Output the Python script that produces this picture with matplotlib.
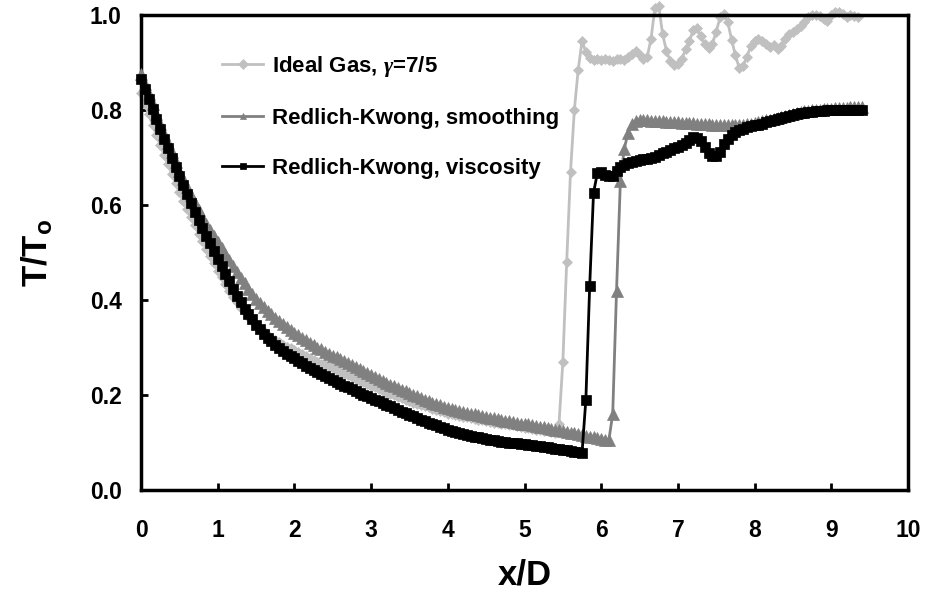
import numpy as np
import matplotlib
matplotlib.use('Agg')
import matplotlib.pyplot as plt

plt.rcParams['font.family'] = ['Liberation Sans', 'DejaVu Sans']
plt.rcParams['font.weight'] = 'bold'
plt.rcParams['mathtext.fontset'] = 'custom'
plt.rcParams['mathtext.rm'] = 'Liberation Sans:bold'
plt.rcParams['mathtext.bf'] = 'Liberation Sans:bold'
plt.rcParams['mathtext.it'] = 'Liberation Serif:italic'

# grid spacing of the solution along the axis (x/D)
DX = 0.05

# T/To along the axis, one value per grid point starting at x/D = 0
ideal_gas = [
    0.835, 0.813, 0.791, 0.769, 0.747, 0.726, 0.706, 0.686, 0.666, 0.646,
    0.627, 0.609, 0.591, 0.574, 0.557, 0.540, 0.524, 0.508, 0.492, 0.477,
    0.462, 0.448, 0.434, 0.420, 0.407, 0.395, 0.384, 0.374, 0.364, 0.356,
    0.348, 0.341, 0.334, 0.327, 0.321, 0.316, 0.311, 0.306, 0.302, 0.298,
    0.294, 0.290, 0.286, 0.282, 0.278, 0.274, 0.270, 0.266, 0.263, 0.259,
    0.256, 0.252, 0.249, 0.245, 0.242, 0.238, 0.234, 0.230, 0.227, 0.223,
    0.219, 0.216, 0.212, 0.209, 0.205, 0.202, 0.199, 0.196, 0.193, 0.190,
    0.187, 0.184, 0.182, 0.179, 0.176, 0.174, 0.171, 0.169, 0.166, 0.164,
    0.161, 0.159, 0.158, 0.156, 0.154, 0.153, 0.151, 0.150, 0.148, 0.147,
    0.145, 0.144, 0.142, 0.141, 0.140, 0.138, 0.137, 0.136, 0.134, 0.133,
    0.131, 0.130, 0.129, 0.127, 0.126, 0.125, 0.124, 0.123, 0.121, 0.140,
    0.270, 0.480, 0.670, 0.800, 0.885, 0.945, 0.922, 0.910, 0.905, 0.907,
    0.905, 0.908, 0.906, 0.904, 0.907, 0.908, 0.906, 0.912, 0.918, 0.925,
    0.915, 0.908, 0.912, 0.950, 1.015, 1.020, 0.960, 0.925, 0.903, 0.895,
    0.897, 0.907, 0.928, 0.945, 0.968, 0.972, 0.955, 0.940, 0.930, 0.940,
    0.965, 0.995, 1.002, 0.985, 0.948, 0.915, 0.888, 0.893, 0.912, 0.935,
    0.945, 0.950, 0.945, 0.938, 0.933, 0.937, 0.928, 0.935, 0.950, 0.960,
    0.965, 0.970, 0.977, 0.985, 0.995, 1.000, 1.000, 0.997, 0.992, 0.987,
    1.000, 1.006, 1.006, 1.003, 0.996, 1.000, 0.997, 0.996,
]

rk_smoothing = [
    0.876, 0.855, 0.834, 0.812, 0.791, 0.770, 0.750, 0.730, 0.711, 0.691,
    0.672, 0.655, 0.638, 0.621, 0.605, 0.589, 0.575, 0.561, 0.548, 0.535,
    0.522, 0.509, 0.497, 0.484, 0.471, 0.459, 0.447, 0.436, 0.424, 0.413,
    0.402, 0.393, 0.385, 0.377, 0.370, 0.363, 0.356, 0.350, 0.343, 0.337,
    0.331, 0.326, 0.320, 0.315, 0.310, 0.305, 0.300, 0.296, 0.291, 0.287,
    0.283, 0.279, 0.275, 0.271, 0.267, 0.263, 0.259, 0.255, 0.250, 0.246,
    0.242, 0.238, 0.234, 0.230, 0.226, 0.222, 0.218, 0.215, 0.211, 0.208,
    0.204, 0.201, 0.197, 0.194, 0.190, 0.187, 0.184, 0.181, 0.178, 0.175,
    0.172, 0.170, 0.168, 0.166, 0.164, 0.162, 0.160, 0.159, 0.157, 0.156,
    0.154, 0.152, 0.151, 0.149, 0.148, 0.146, 0.145, 0.143, 0.142, 0.140,
    0.139, 0.138, 0.136, 0.135, 0.133, 0.132, 0.130, 0.129, 0.127, 0.126,
    0.124, 0.122, 0.120, 0.119, 0.117, 0.115, 0.114, 0.112, 0.111, 0.109,
    0.108, 0.106, 0.105, 0.160, 0.420, 0.650, 0.718, 0.752, 0.770, 0.776,
    0.778, 0.778, 0.778, 0.777, 0.777, 0.776, 0.776, 0.775, 0.775, 0.774,
    0.774, 0.773, 0.773, 0.772, 0.772, 0.771, 0.771, 0.770, 0.770, 0.769,
    0.769, 0.768, 0.768, 0.768, 0.768, 0.768, 0.768, 0.769, 0.770, 0.771,
    0.772, 0.774, 0.776, 0.778, 0.780, 0.782, 0.784, 0.786, 0.788, 0.790,
    0.792, 0.794, 0.795, 0.797, 0.798, 0.799, 0.800, 0.801, 0.802, 0.803,
    0.803, 0.804, 0.804, 0.805, 0.805, 0.806, 0.806, 0.806, 0.806,
]

rk_viscosity = [
    0.865, 0.844, 0.823, 0.802, 0.781, 0.760, 0.740, 0.720, 0.700, 0.680,
    0.661, 0.642, 0.623, 0.604, 0.586, 0.568, 0.551, 0.535, 0.519, 0.503,
    0.487, 0.471, 0.455, 0.439, 0.423, 0.408, 0.395, 0.382, 0.370, 0.359,
    0.348, 0.338, 0.329, 0.321, 0.313, 0.306, 0.299, 0.293, 0.287, 0.282,
    0.277, 0.272, 0.267, 0.262, 0.257, 0.253, 0.248, 0.244, 0.240, 0.236,
    0.232, 0.228, 0.224, 0.220, 0.216, 0.212, 0.208, 0.205, 0.201, 0.198,
    0.194, 0.190, 0.187, 0.183, 0.180, 0.176, 0.172, 0.169, 0.165, 0.162,
    0.158, 0.155, 0.151, 0.148, 0.145, 0.142, 0.139, 0.136, 0.133, 0.130,
    0.127, 0.125, 0.122, 0.120, 0.118, 0.116, 0.114, 0.112, 0.111, 0.109,
    0.108, 0.106, 0.105, 0.104, 0.102, 0.101, 0.100, 0.099, 0.098, 0.097,
    0.096, 0.095, 0.094, 0.093, 0.092, 0.091, 0.090, 0.089, 0.087, 0.086,
    0.085, 0.084, 0.082, 0.081, 0.079, 0.078, 0.190, 0.430, 0.626, 0.667,
    0.669, 0.664, 0.661, 0.662, 0.671, 0.680, 0.685, 0.689, 0.691, 0.692,
    0.694, 0.696, 0.697, 0.698, 0.701, 0.705, 0.709, 0.712, 0.716, 0.719,
    0.722, 0.726, 0.731, 0.737, 0.743, 0.742, 0.735, 0.722, 0.710, 0.703,
    0.704, 0.711, 0.728, 0.740, 0.747, 0.753, 0.757, 0.761, 0.764, 0.766,
    0.768, 0.769, 0.771, 0.774, 0.777, 0.779, 0.781, 0.783, 0.785, 0.788,
    0.790, 0.791, 0.793, 0.794, 0.795, 0.796, 0.797, 0.798, 0.798, 0.799,
    0.799, 0.800, 0.800, 0.801, 0.801, 0.801, 0.801, 0.801, 0.801,
]

x_ideal = np.arange(len(ideal_gas)) * DX
x_smooth = np.arange(len(rk_smoothing)) * DX
x_visc = np.arange(len(rk_viscosity)) * DX

fig = plt.figure(figsize=(9.26, 5.94), dpi=100)
ax = fig.add_axes([141 / 926, 104 / 594, 767 / 926, 475 / 594])

ax.plot(x_ideal, ideal_gas, color='#c0c0c0', lw=2, marker='D', ms=5.5,
        mec='#c0c0c0', mfc='#c0c0c0', mew=0.5, clip_on=False,
        label='Ideal Gas, $\\gamma$=7/5', zorder=2)
ax.plot(x_smooth, rk_smoothing, color='#808080', lw=2, marker='^', ms=8.5,
        mec='#808080', mfc='#808080', mew=0.5, clip_on=False,
        label='Redlich-Kwong, smoothing', zorder=3)
ax.plot(x_visc, rk_viscosity, color='black', lw=2, marker='s', ms=6.5,
        mec='black', mfc='black', mew=0.5, clip_on=False,
        label='Redlich-Kwong, viscosity', zorder=4)

ax.set_xlim(0, 10)
ax.set_ylim(0, 1.0)
ax.set_xticks(np.arange(0, 11, 1))
ax.set_yticks(np.arange(0, 1.01, 0.2))
ax.set_yticklabels(['0.0', '0.2', '0.4', '0.6', '0.8', '1.0'])

for s in ax.spines.values():
    s.set_linewidth(2.5)
ax.tick_params(direction='in', length=5, width=2, labelsize=16.5)
ax.tick_params(axis='x', pad=21)
ax.tick_params(axis='y', pad=14)

ax.set_xlabel('x/D', fontsize=25, fontweight='bold', labelpad=12)
ax.set_ylabel('T/T$_\\mathregular{o}$', fontsize=25, fontweight='bold', labelpad=25)

leg = ax.legend(loc='upper left', bbox_to_anchor=(0.106, 0.918), frameon=False,
                fontsize=16, handlelength=1.85, handletextpad=0.4,
                labelspacing=1.3, borderpad=0, borderaxespad=0)
for h in leg.legend_handles:
    h.set_markersize(5)

fig.savefig('out.png', dpi=100)
